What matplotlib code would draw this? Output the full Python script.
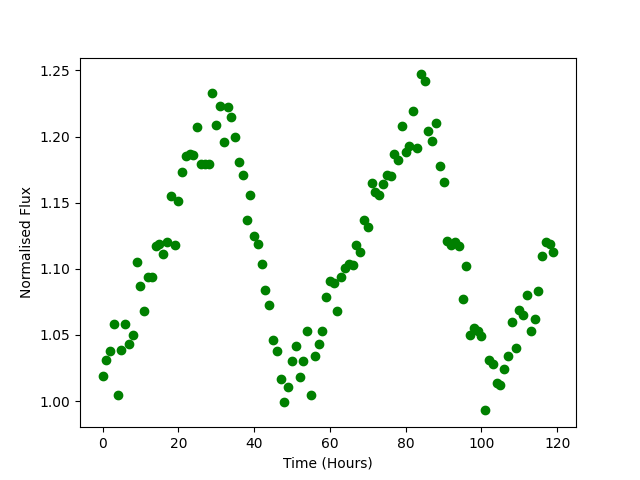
import numpy as np
import matplotlib
matplotlib.use("Agg")
import matplotlib.pyplot as plt

# Hourly readings
hours = np.arange(120)
flux = [
    1.019, 1.031, 1.038, 1.058, 1.005, 1.039, 1.058, 1.043, 1.050, 1.105,
    1.087, 1.068, 1.094, 1.094, 1.117, 1.119, 1.111, 1.120, 1.155, 1.118,
    1.151, 1.173, 1.185, 1.187, 1.186, 1.207, 1.179, 1.179, 1.179, 1.233,
    1.209, 1.223, 1.196, 1.222, 1.215, 1.200, 1.181, 1.171, 1.137, 1.156,
    1.125, 1.119, 1.104, 1.084, 1.073, 1.046, 1.038, 1.017, 0.999, 1.011,
    1.030, 1.042, 1.018, 1.030, 1.053, 1.005, 1.034, 1.043, 1.053, 1.079,
    1.091, 1.089, 1.068, 1.094, 1.101, 1.104, 1.103, 1.118, 1.113, 1.137,
    1.132, 1.165, 1.158, 1.156, 1.164, 1.171, 1.170, 1.187, 1.182, 1.208,
    1.188, 1.193, 1.219, 1.191, 1.247, 1.242, 1.204, 1.197, 1.210, 1.178,
    1.166, 1.121, 1.118, 1.120, 1.117, 1.077, 1.102, 1.050, 1.055, 1.053,
    1.049, 0.993, 1.031, 1.028, 1.014, 1.012, 1.024, 1.034, 1.060, 1.040,
    1.069, 1.065, 1.080, 1.053, 1.062, 1.083, 1.110, 1.120, 1.119, 1.113,
]

plt.figure(figsize=(6.4, 4.8), dpi=100)
plt.plot(hours, flux, "o", color="green")
plt.xlabel("Time (Hours)")
plt.ylabel("Normalised Flux")
plt.savefig("out.png")
plt.close()
